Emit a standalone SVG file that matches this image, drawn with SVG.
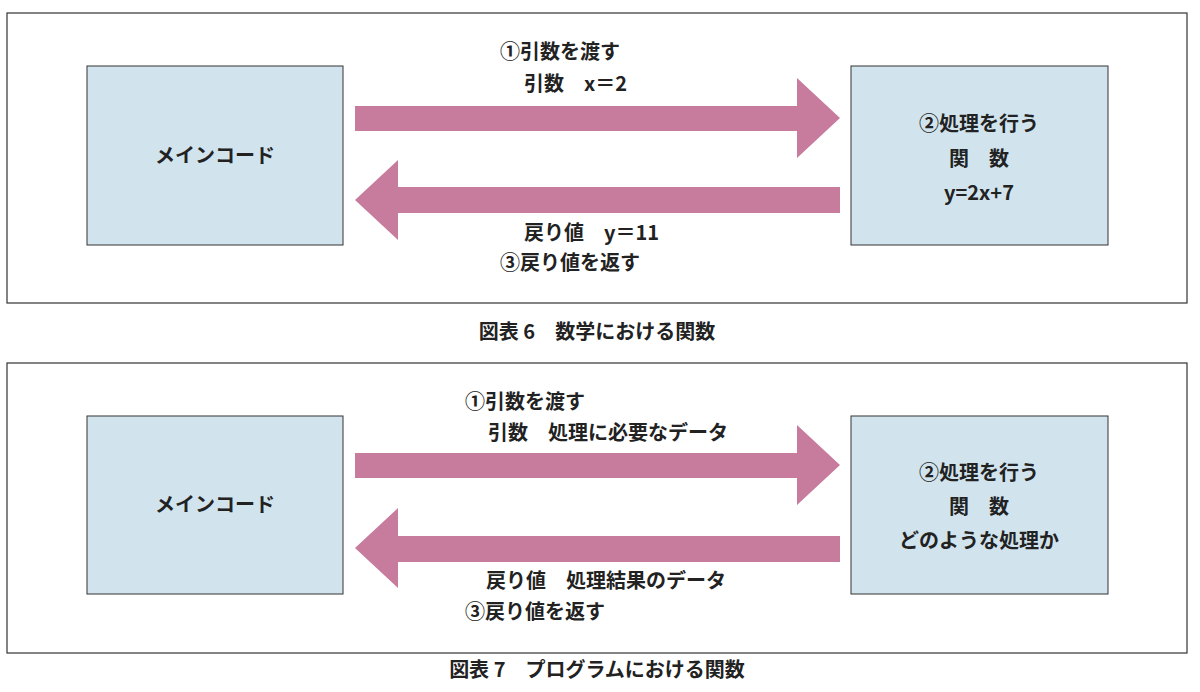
<svg xmlns="http://www.w3.org/2000/svg" width="1200" height="692" viewBox="0 0 1200 692">
<style>
.frame{fill:#fff;stroke:#333;stroke-width:1.2}
.box{fill:#d1e4ee;stroke:#333;stroke-width:1}
.arr{fill:#c87c9d}
text{font-family:"Noto Sans CJK JP","Noto Sans",sans-serif;font-size:20px;font-weight:bold;fill:#222}
.c{text-anchor:middle}
</style>
<rect width="1200" height="692" fill="#fff"/>
<rect class="frame" x="7" y="13" width="1180" height="290"/>
<rect class="frame" x="7" y="363" width="1180" height="290"/>
<g id="main1"><rect class="box" x="87" y="66" width="256" height="179"/><text class="c" x="215" y="163">メインコード</text></g>
<g id="func1"><rect class="box" x="851" y="66" width="257" height="179"/>
<text class="c" x="979" y="131">②処理を行う</text><text class="c" x="979" y="166">関　数</text><text class="c" x="979" y="200">y=2x+7</text></g>
<g id="main2"><rect class="box" x="87" y="416" width="256" height="178"/><text class="c" x="215" y="512">メインコード</text></g>
<g id="func2"><rect class="box" x="851" y="416" width="257" height="178"/>
<text class="c" x="979" y="480">②処理を行う</text><text class="c" x="979" y="514">関　数</text><text class="c" x="979" y="548">どのような処理か</text></g>
<g id="connectors">
<polygon class="arr" points="355,106 797,106 797,78 840,118 797,158 797,131 355,131"/>
<polygon class="arr" points="840,187 398,187 398,160 355,200 398,240 398,213 840,213"/>
<polygon class="arr" points="355,453 797,453 797,425 840,465 797,505 797,478 355,478"/>
<polygon class="arr" points="840,536 398,536 398,508 355,548 398,588 398,562 840,562"/>
</g>
<text x="500" y="59">①引数を渡す</text>
<text x="524" y="91">引数　x＝2</text>
<text x="524" y="240">戻り値　y＝11</text>
<text x="500" y="270">③戻り値を返す</text>
<text x="465" y="409">①引数を渡す</text>
<text x="488" y="440">引数　処理に必要なデータ</text>
<text x="486" y="588">戻り値　処理結果のデータ</text>
<text x="465" y="619">③戻り値を返す</text>
<text class="c" x="597" y="339">図表 6　数学における関数</text>
<text class="c" x="597" y="677">図表 7　プログラムにおける関数</text>
</svg>
